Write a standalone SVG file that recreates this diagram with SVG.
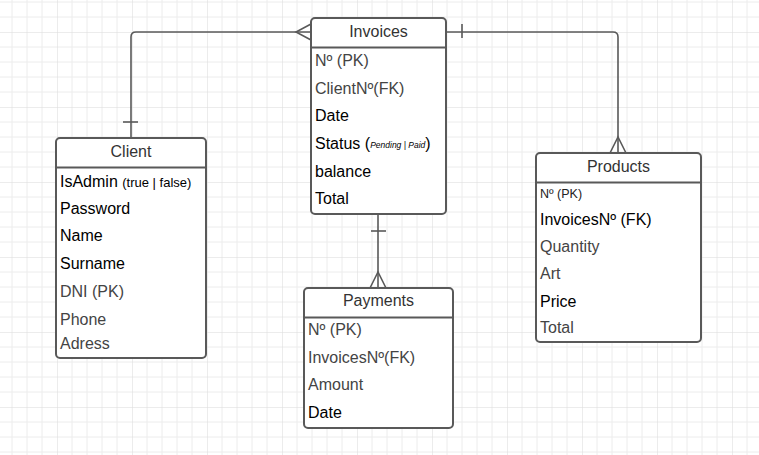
<svg xmlns="http://www.w3.org/2000/svg" width="759" height="455" viewBox="0 0 759 455">
<defs>
<pattern id="grid" patternUnits="userSpaceOnUse" x="57" y="32" width="75" height="75">
<path d="M15 0V75M30 0V75M45 0V75M60 0V75M0 15H75M0 30H75M0 45H75M0 60H75" stroke="#ececec" stroke-width="1" fill="none"/>
<path d="M0 0V75M0 0H75" stroke="#dadada" stroke-width="1" fill="none"/>
</pattern>
<style>
.box{fill:#fff;stroke:#595959;stroke-width:2}
.sep{stroke:#595959;stroke-width:2}
.ttl{font-family:"Liberation Sans",Arial,sans-serif;font-size:16px;fill:#333;text-anchor:middle}
.f{font-family:"Liberation Sans",Arial,sans-serif;font-size:16px;fill:#000}
.g{fill:#444}
.s{font-size:12.5px;fill:#222}
.c{fill:none;stroke:#595959;stroke-width:1.6}
</style>
</defs>
<rect x="0" y="0" width="759" height="455" fill="#fff"/>
<rect x="0" y="0" width="759" height="455" fill="url(#grid)"/>

<g id="connectors">
<path class="c" d="M131 138V37Q131 32 136 32H311"/>
<path class="c" d="M123 122H138"/>
<path class="c" d="M311 24L296 32L311 40"/>
<path class="c" d="M446 32H613Q618 32 618 37V153"/>
<path class="c" d="M462 24V38"/>
<path class="c" d="M610 153L618 137L626 153"/>
<path class="c" d="M378 214V288"/>
<path class="c" d="M371 231H386"/>
<path class="c" d="M370 288L378 272L386 288"/>
</g>

<g id="invoices">
<rect class="box" x="311" y="18" width="135" height="196" rx="4"/>
<line class="sep" x1="311" y1="47.5" x2="446" y2="47.5"/>
<text class="ttl" x="378.5" y="37">Invoices</text>
<text class="f g" x="315" y="66">Nº (PK)</text>
<text class="f g" x="315" y="94">ClientNº(FK)</text>
<text class="f" x="315" y="121">Date</text>
<text class="f" x="315" y="149">Status (<tspan font-size="8.5" font-style="italic" dy="-1">Pending | Paid</tspan><tspan dy="1">)</tspan></text>
<text class="f" x="315" y="177">balance</text>
<text class="f" x="315" y="204">Total</text>
</g>

<g id="client">
<rect class="box" x="56" y="138" width="150" height="220" rx="4"/>
<line class="sep" x1="56" y1="167.5" x2="206" y2="167.5"/>
<text class="ttl" x="131" y="157">Client</text>
<text class="f" x="60" y="187">IsAdmin <tspan font-size="13">(true | false)</tspan></text>
<text class="f" x="60" y="214">Password</text>
<text class="f" x="60" y="241">Name</text>
<text class="f" x="60" y="269">Surname</text>
<text class="f g" x="60" y="297">DNI (PK)</text>
<text class="f g" x="60" y="325">Phone</text>
<text class="f g" x="60" y="349">Adress</text>
</g>

<g id="products">
<rect class="box" x="536" y="153" width="165" height="189" rx="4"/>
<line class="sep" x1="536" y1="182.5" x2="701" y2="182.5"/>
<text class="ttl" x="618.5" y="172">Products</text>
<text class="f s" x="540" y="197.5">Nº (PK)</text>
<text class="f" x="540" y="225">InvoicesNº (FK)</text>
<text class="f g" x="540" y="252">Quantity</text>
<text class="f g" x="540" y="279">Art</text>
<text class="f" x="540" y="307">Price</text>
<text class="f g" x="540" y="333">Total</text>
</g>

<g id="payments">
<rect class="box" x="304" y="288" width="149" height="140" rx="4"/>
<line class="sep" x1="304" y1="317.5" x2="453" y2="317.5"/>
<text class="ttl" x="378.5" y="306">Payments</text>
<text class="f g" x="308" y="335">Nº (PK)</text>
<text class="f g" x="308" y="363">InvoicesNº(FK)</text>
<text class="f g" x="308" y="390">Amount</text>
<text class="f" x="308" y="418">Date</text>
</g>
</svg>
